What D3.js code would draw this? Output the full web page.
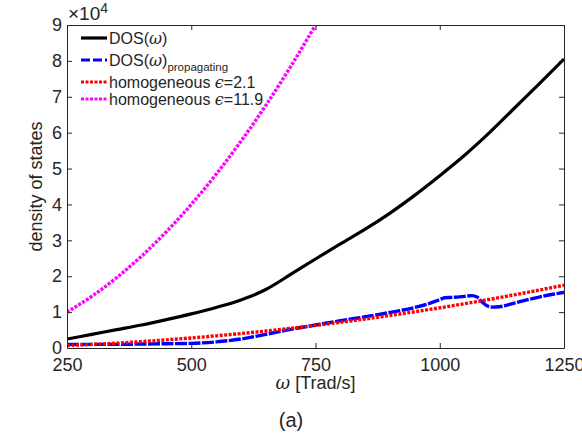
<!DOCTYPE html>
<html>
<head>
<meta charset="utf-8">
<script src="https://cdn.jsdelivr.net/npm/d3@7"></script>
<style>
  html, body { margin: 0; padding: 0; background: #fff; }
  svg text { font-family: "Liberation Sans", Arial, Helvetica, sans-serif; fill: #262626; }
</style>
</head>
<body>
<svg id="chart" width="582" height="445"></svg>
<script>
// Density of states vs angular frequency (values in units of 1e4)
const dosOmega = [250, 300, 350, 400, 450, 500, 550, 600, 625, 650, 700, 750, 800, 850, 900, 950, 1000, 1050, 1100, 1150, 1200, 1250];
const dosTotal = [0.25, 0.38, 0.51, 0.64, 0.79, 0.95, 1.13, 1.34, 1.47, 1.63, 2.05, 2.48, 2.90, 3.31, 3.76, 4.26, 4.80, 5.37, 6.00, 6.68, 7.36, 8.05];

const propOmega = [250, 300, 350, 400, 450, 500, 550, 600, 650, 700, 750, 800, 850, 900, 950, 975, 1000, 1010, 1025, 1050, 1065, 1075, 1085, 1095, 1105, 1120, 1150, 1175, 1200, 1225, 1250];
const dosPropagating = [0.10, 0.10, 0.10, 0.11, 0.12, 0.13, 0.17, 0.25, 0.38, 0.52, 0.64, 0.76, 0.87, 0.99, 1.13, 1.22, 1.35, 1.40, 1.41, 1.44, 1.46, 1.42, 1.28, 1.18, 1.14, 1.15, 1.25, 1.34, 1.42, 1.49, 1.55];

const homOmega = [250, 300, 350, 400, 450, 500, 550, 600, 650, 700, 750, 800, 850, 900, 950, 1000, 1050, 1100, 1150, 1200, 1250];
const homEps21 = [0.07, 0.10, 0.137, 0.179, 0.227, 0.28, 0.339, 0.403, 0.473, 0.549, 0.63, 0.717, 0.809, 0.907, 1.011, 1.12, 1.235, 1.355, 1.481, 1.613, 1.75];

const hom119Omega = [250, 300, 350, 400, 450, 500, 550, 600, 650, 700, 750, 800];
const homEps119 = [1.00, 1.44, 1.96, 2.56, 3.24, 4.00, 4.84, 5.76, 6.76, 7.84, 9.00, 10.24];

const xTicks = [250, 500, 750, 1000, 1250];
const yTicks = [0, 1, 2, 3, 4, 5, 6, 7, 8, 9];

const svg = d3.select("#chart");
const plot = { left: 67, right: 564, top: 25, bottom: 348 };

const x = d3.scaleLinear().domain([250, 1250]).range([plot.left, plot.right]);
const y = d3.scaleLinear().domain([0, 9]).range([plot.bottom, plot.top]);

svg.append("defs").append("clipPath").attr("id", "plotClip")
  .append("rect")
  .attr("x", plot.left).attr("y", plot.top)
  .attr("width", plot.right - plot.left).attr("height", plot.bottom - plot.top);

const line = d3.line().x(d => x(d[0])).y(d => y(d[1])).curve(d3.curveMonotoneX);
const zip = (a, b) => a.map((v, i) => [v, b[i]]);

const series = [
  { data: zip(dosOmega, dosTotal), color: "#000000", width: 3.2, dash: null },
  { data: zip(propOmega, dosPropagating), color: "#0000ff", width: 3.4, dash: "12,1.5" },
  { data: zip(homOmega, homEps21), color: "#ff0000", width: 3.4, dash: "3,1.5" },
  { data: zip(hom119Omega, homEps119), color: "#ff00ff", width: 3.4, dash: "3,1.5" }
];

const curves = svg.append("g").attr("clip-path", "url(#plotClip)");
series.forEach(s => {
  curves.append("path")
    .datum(s.data)
    .attr("d", line)
    .attr("fill", "none")
    .attr("stroke", s.color)
    .attr("stroke-width", s.width)
    .attr("stroke-dasharray", s.dash)
    .attr("stroke-linejoin", "round");
});

// Axes: ticks pointing inward on all four sides
const axisColor = "#262626";
const tickLen = 5;
const fontSize = 18;

const gBottom = svg.append("g").attr("transform", `translate(0,${plot.bottom})`)
  .call(d3.axisBottom(x).tickValues(xTicks).tickFormat(d3.format("d")).tickSizeInner(-tickLen).tickSizeOuter(0).tickPadding(10));
const gTop = svg.append("g").attr("transform", `translate(0,${plot.top})`)
  .call(d3.axisTop(x).tickValues(xTicks).tickSizeInner(-tickLen).tickSizeOuter(0).tickFormat(""));
const gLeft = svg.append("g").attr("transform", `translate(${plot.left},0)`)
  .call(d3.axisLeft(y).tickValues(yTicks).tickFormat(d3.format("d")).tickSizeInner(-tickLen).tickSizeOuter(0).tickPadding(5));
const gRight = svg.append("g").attr("transform", `translate(${plot.right},0)`)
  .call(d3.axisRight(y).tickValues(yTicks).tickSizeInner(-tickLen).tickSizeOuter(0).tickFormat(""));

[gBottom, gTop, gLeft, gRight].forEach(g => {
  g.select(".domain").attr("stroke", axisColor).attr("stroke-width", 1);
  g.selectAll(".tick line").attr("stroke", axisColor).attr("stroke-width", 1);
  g.selectAll(".tick text")
    .attr("font-size", fontSize)
    .attr("font-family", "Liberation Sans, Arial, sans-serif")
    .attr("fill", axisColor);
});

// Exponent marker above the y-axis
const expo = svg.append("text").attr("x", plot.left + 1).attr("y", plot.top - 5)
  .attr("font-size", 19);
expo.append("tspan").text("\u00d710");
expo.append("tspan").attr("dy", -7).attr("font-size", 14).text("4");

// Axis titles
svg.append("text")
  .attr("transform", `translate(${plot.left - 25},${(plot.top + plot.bottom) / 2}) rotate(-90)`)
  .attr("text-anchor", "middle")
  .attr("font-size", 18)
  .text("density of states");

const xl = svg.append("text")
  .attr("x", (plot.left + plot.right) / 2).attr("y", 389)
  .attr("text-anchor", "middle")
  .attr("font-size", 18);
xl.append("tspan").attr("font-family", "DejaVu Serif, serif").attr("font-style", "italic").text("\u03c9");
xl.append("tspan").text(" [Trad/s]");

svg.append("text")
  .attr("x", 291).attr("y", 427)
  .attr("text-anchor", "middle")
  .attr("font-size", 20)
  .text("(a)");

// Legend
const legendItems = [
  { color: "#000000", dash: null, y: 38, main: "DOS(", omega: true, tail: ")", sub: null },
  { color: "#0000ff", dash: "9,3", y: 60, main: "DOS(", omega: true, tail: ")", sub: "propagating" },
  { color: "#ff0000", dash: "3,1.5", y: 82, main: "homogeneous ", eps: "2.1" },
  { color: "#ff00ff", dash: "3,1.5", y: 99, main: "homogeneous ", eps: "11.9" }
];
const lg = svg.append("g");
legendItems.forEach(it => {
  lg.append("line")
    .attr("x1", 81).attr("x2", 107).attr("y1", it.y).attr("y2", it.y)
    .attr("stroke", it.color).attr("stroke-width", 3.2)
    .attr("stroke-dasharray", it.dash);
  const t = lg.append("text").attr("x", 109).attr("y", it.y + 5.5).attr("font-size", 16).attr("fill", "#000");
  t.append("tspan").text(it.main);
  if (it.omega) {
    t.append("tspan").attr("font-family", "DejaVu Serif, serif").attr("font-style", "italic").text("\u03c9");
    t.append("tspan").text(it.tail);
    if (it.sub) {
      t.append("tspan").attr("dy", 5).attr("font-size", 11.5).text(it.sub);
    }
  }
  if (it.eps) {
    t.append("tspan").attr("font-family", "DejaVu Serif, serif").attr("font-style", "italic").text("\u03f5");
    t.append("tspan").text("=" + it.eps);
  }
});
</script>
</body>
</html>
